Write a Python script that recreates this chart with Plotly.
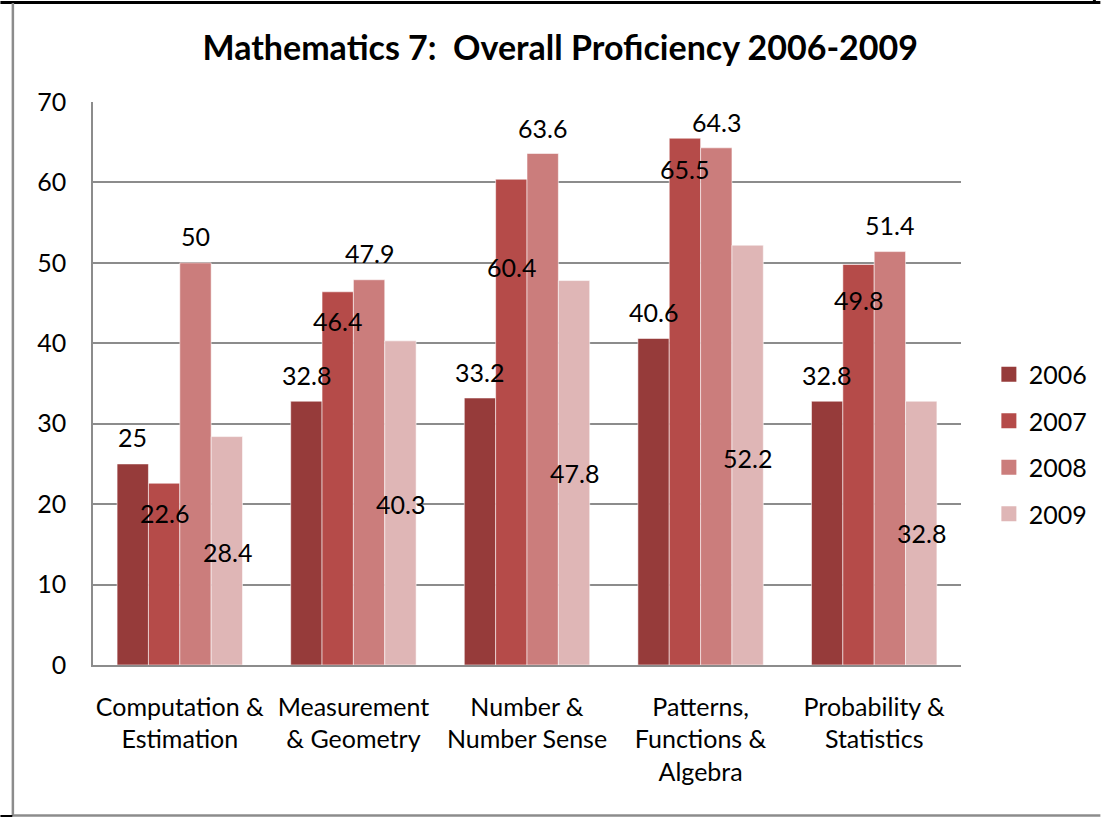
import plotly.graph_objects as go

categories = ["Computation &<br>Estimation", "Measurement<br>& Geometry",
              "Number &<br>Number Sense", "Patterns,<br>Functions &<br>Algebra",
              "Probability &<br>Statistics"]
years = ["2006", "2007", "2008", "2009"]
v2006 = [25, 32.8, 33.2, 40.6, 32.8]
v2007 = [22.6, 46.4, 60.4, 65.5, 49.8]
v2008 = [50, 47.9, 63.6, 64.3, 51.4]
v2009 = [28.4, 40.3, 47.8, 52.2, 32.8]
series = [v2006, v2007, v2008, v2009]

# label anchor heights (data units), as placed in the original chart
lab2006 = [28.3, 36.1, 36.4, 43.9, 36.1]
lab2007 = [18.9, 42.8, 49.5, 61.7, 45.4]
lab2008 = [53.3, 51.2, 66.8, 67.5, 54.7]
lab2009 = [14.0, 20.0, 23.9, 25.7, 16.4]
labels = [lab2006, lab2007, lab2008, lab2009]

colors = ["#963b3a", "#b54b49", "#cb7d7c", "#dfb6b6"]
FONT = "Lato, 'Open Sans', sans-serif"

W, H = 1105, 817
ml, mr, mt, mb = 93, 140, 102, 152
pw = W - ml - mr
ph = H - mt - mb
bargap = 0.2775

fig = go.Figure()
for i, (yr, vals) in enumerate(zip(years, series)):
    fig.add_trace(go.Bar(
        x=categories, y=vals, name=yr, showlegend=False,
        marker=dict(color=colors[i], line=dict(color="rgba(255,255,255,0.55)", width=1)),
        hoverinfo="x+y+name",
    ))
# legend entries with larger square swatches
for i, yr in enumerate(years):
    fig.add_trace(go.Scatter(
        x=[None], y=[None], mode="markers", name=yr, legendgroup=yr,
        marker=dict(symbol="square", size=15, color=colors[i]),
    ))

bar_w = pw / len(categories) * (1 - bargap) / len(years)
for i, (vals, labs) in enumerate(zip(series, labels)):
    shift = (i - (len(years) - 1) / 2) * bar_w
    for c, v, ly in zip(categories, vals, labs):
        fig.add_annotation(x=c, y=ly, text=f"{v:g}", showarrow=False,
                           xshift=shift, yanchor="middle", xanchor="center",
                           font=dict(family=FONT, size=25, color="black"))

def px_x(p):
    return (p - ml) / pw

def px_y(p):
    return (H - mb - p) / ph

# frame lines
fig.add_shape(type="line", xref="paper", yref="paper",
              x0=px_x(0), x1=px_x(W), y0=px_y(2.5), y1=px_y(2.5),
              line=dict(color="black", width=3))
fig.add_shape(type="line", xref="paper", yref="paper",
              x0=px_x(1099), x1=px_x(1099), y0=px_y(0), y1=px_y(3),
              line=dict(color="black", width=3))
fig.add_shape(type="line", xref="paper", yref="paper",
              x0=px_x(12.5), x1=px_x(12.5), y0=px_y(3), y1=px_y(816),
              line=dict(color="#8c8c8c", width=2.5))
fig.add_shape(type="line", xref="paper", yref="paper",
              x0=px_x(12), x1=px_x(W), y0=px_y(815.5), y1=px_y(815.5),
              line=dict(color="#8c8c8c", width=2.5))
fig.add_shape(type="line", xref="paper", yref="paper",
              x0=px_x(0), x1=px_x(12), y0=px_y(816), y1=px_y(816),
              line=dict(color="black", width=2))

fig.update_layout(
    width=W, height=H,
    margin=dict(l=ml, r=mr, t=mt, b=mb),
    paper_bgcolor="white", plot_bgcolor="white",
    barmode="group", bargap=bargap, bargroupgap=0,
    title=dict(text="<b>Mathematics 7:  Overall Proficiency 2006-2009</b>",
               x=0.507, xanchor="center", y=1 - 48 / H, yanchor="middle",
               font=dict(family=FONT, size=34, color="black")),
    font=dict(family=FONT, size=25, color="black"),
    legend=dict(x=px_x(993), xanchor="left", y=px_y(444), yanchor="middle",
                font=dict(family=FONT, size=25, color="black"),
                tracegroupgap=11, bgcolor="rgba(0,0,0,0)", itemwidth=30),
    showlegend=True,
)
fig.update_yaxes(range=[0, 70], dtick=10, showgrid=True, gridcolor="#8c8c8c",
                 gridwidth=1.5, showline=True, linecolor="#8c8c8c", linewidth=1.5,
                 ticks="", ticklabelstandoff=20, zeroline=False,
                 tickfont=dict(family=FONT, size=25, color="black"))
fig.update_xaxes(showline=True, linecolor="#8c8c8c", linewidth=1.5, ticks="",
                 ticklabelstandoff=19, showgrid=False,
                 tickfont=dict(family=FONT, size=25, color="black"))

fig.write_html("out.html", config={"displayModeBar": False},
               post_script="document.body.style.margin='0';document.body.style.overflow='hidden';")
